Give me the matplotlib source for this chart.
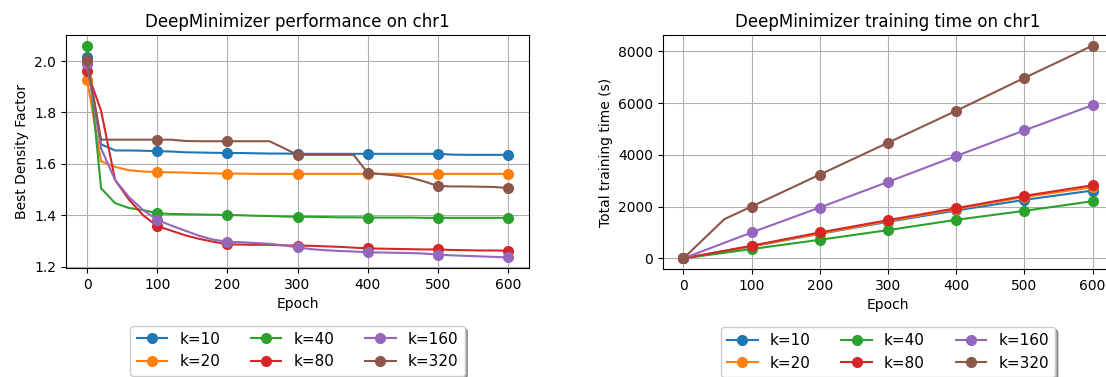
import matplotlib
matplotlib.use("Agg")
import matplotlib.pyplot as plt

# epochs are logged every 20 steps, markers every 100
epochs = list(range(0, 601, 20))
labels = ["k=10", "k=20", "k=40", "k=80", "k=160", "k=320"]

# best density factor per k
density_k10 = [2.015, 1.676, 1.652, 1.652, 1.651, 1.649, 1.648, 1.645, 1.644, 1.643, 1.642,
               1.642, 1.641, 1.640, 1.640, 1.639, 1.639, 1.639, 1.639, 1.639, 1.639,
               1.639, 1.639, 1.639, 1.639, 1.639, 1.636, 1.635, 1.635, 1.635, 1.635]
density_k20 = [1.928, 1.610, 1.588, 1.575, 1.570, 1.568, 1.567, 1.566, 1.564, 1.563, 1.562,
               1.562, 1.561, 1.561, 1.561, 1.561, 1.561, 1.561, 1.561, 1.561, 1.561,
               1.561, 1.561, 1.561, 1.561, 1.561, 1.561, 1.561, 1.561, 1.561, 1.561]
density_k40 = [2.060, 1.505, 1.447, 1.428, 1.420, 1.408, 1.405, 1.404, 1.403, 1.402, 1.401,
               1.400, 1.398, 1.397, 1.395, 1.394, 1.394, 1.393, 1.392, 1.392, 1.391,
               1.391, 1.391, 1.391, 1.390, 1.390, 1.390, 1.390, 1.390, 1.390, 1.390]
density_k80 = [1.960, 1.807, 1.537, 1.460, 1.400, 1.358, 1.340, 1.322, 1.308, 1.297, 1.287,
               1.286, 1.285, 1.285, 1.283, 1.282, 1.281, 1.279, 1.277, 1.274, 1.271,
               1.270, 1.269, 1.268, 1.267, 1.267, 1.265, 1.264, 1.263, 1.263, 1.262]
density_k160 = [1.990, 1.660, 1.537, 1.470, 1.420, 1.382, 1.360, 1.340, 1.320, 1.305, 1.297,
                1.295, 1.292, 1.289, 1.283, 1.275, 1.268, 1.264, 1.261, 1.259, 1.256,
                1.255, 1.254, 1.253, 1.251, 1.247, 1.244, 1.242, 1.240, 1.238, 1.236]
density_k320 = [2.005, 1.694, 1.694, 1.694, 1.694, 1.694, 1.694, 1.689, 1.688, 1.688, 1.688,
                1.688, 1.688, 1.688, 1.662, 1.635, 1.635, 1.635, 1.635, 1.635, 1.565,
                1.560, 1.555, 1.547, 1.532, 1.514, 1.512, 1.512, 1.511, 1.510, 1.506]

# cumulative training time (s) per k
time_k10 = [0, 92, 185, 277, 370, 462, 560, 657, 755, 852, 950, 1042, 1135, 1227, 1320, 1412,
            1500, 1587, 1675, 1762, 1850, 1932, 2014, 2096, 2178, 2260, 2332, 2404, 2476, 2548, 2620]
time_k20 = [0, 94, 188, 282, 376, 470, 568, 666, 764, 862, 960, 1056, 1152, 1248, 1344, 1440,
            1532, 1624, 1716, 1808, 1900, 1994, 2088, 2182, 2276, 2370, 2446, 2521, 2597, 2672, 2748]
time_k40 = [0, 72, 144, 216, 288, 360, 432, 504, 575, 647, 719, 793, 868, 942, 1017, 1091,
            1171, 1251, 1330, 1410, 1490, 1559, 1628, 1698, 1767, 1836, 1910, 1985, 2059, 2134, 2208]
time_k80 = [0, 98, 195, 293, 390, 488, 591, 693, 796, 898, 1001, 1096, 1191, 1286, 1381, 1476,
            1569, 1661, 1754, 1846, 1939, 2034, 2129, 2224, 2319, 2414, 2496, 2578, 2661, 2743, 2825]
time_k160 = [0, 200, 400, 601, 801, 1001, 1194, 1387, 1580, 1772, 1965, 2163, 2361, 2559, 2756, 2954,
             3154, 3354, 3555, 3755, 3955, 4153, 4351, 4549, 4746, 4944, 5139, 5334, 5530, 5725, 5920]
time_k320 = [0, 505, 1010, 1515, 1760, 2003, 2250, 2497, 2743, 2990, 3236, 3483, 3730, 3976, 4222, 4469,
             4715, 4962, 5208, 5455, 5701, 5955, 6210, 6465, 6720, 6973, 7222, 7471, 7720, 7970, 8219]

density = [density_k10, density_k20, density_k40, density_k80, density_k160, density_k320]
times = [time_k10, time_k20, time_k40, time_k80, time_k160, time_k320]

fig = plt.figure(figsize=(11.06, 3.77), dpi=100)
W, H = 1106, 377
ax1 = fig.add_axes([66 / W, (H - 268) / H, 463 / W, 233 / H])
ax2 = fig.add_axes([663 / W, (H - 269) / H, 450 / W, 234 / H])

for vals, lab in zip(density, labels):
    ax1.plot(epochs, vals, marker="o", markersize=7, markevery=5, label=lab)
for vals, lab in zip(times, labels):
    ax2.plot(epochs, vals, marker="o", markersize=7, markevery=5, label=lab)

ax1.set_title("DeepMinimizer performance on chr1")
ax1.set_xlabel("Epoch")
ax1.set_ylabel("Best Density Factor")
ax2.set_title("DeepMinimizer training time on chr1")
ax2.set_xlabel("Epoch")
ax2.set_ylabel("Total training time (s)")

for ax in (ax1, ax2):
    ax.grid(True)
    ax.legend(loc="upper center", bbox_to_anchor=(0.5, -0.215), ncol=3, shadow=True,
              fontsize=11)

fig.savefig("out.png", dpi=100)
